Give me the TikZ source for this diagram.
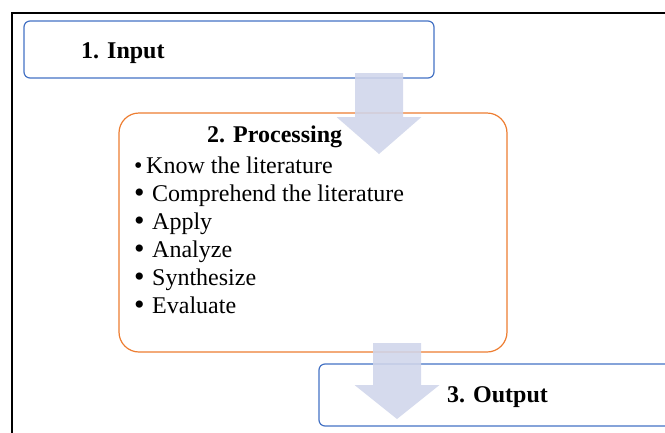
\documentclass[tikz,border=0pt]{standalone}
\usepackage{fontspec}
\setmainfont{Liberation Serif}
\definecolor{boxblue}{RGB}{68,114,196}
\definecolor{boxorange}{RGB}{237,125,49}
\definecolor{arrowfill}{RGB}{207,213,234}
\newcommand{\bigbul}{\smash{\raisebox{-1.5pt}{\scalebox{1.25}{•}}}}
\newcommand{\smallbul}{\smash{•}}
\begin{document}
\begin{tikzpicture}[x=1pt,y=-1pt,
  bluebox/.style={draw=boxblue,line width=1.2pt,rounded corners=6pt,inner sep=0pt},
  orangebox/.style={draw=boxorange,line width=1.2pt,rounded corners=20pt,inner sep=0pt},
  titletext/.style={anchor=base west,inner sep=0pt,font=\fontsize{24}{28}\selectfont\bfseries},
  itemtext/.style={anchor=base west,inner sep=0pt,font=\fontsize{24}{28}\selectfont},
  blockarrow/.style={fill=arrowfill,fill opacity=0.88,draw=none}
  ]
\useasboundingbox (0,0) rectangle (665,432);
\begin{scope}
\clip (0,0) rectangle (665,432);
% outer frame
\draw[line width=2.4pt] (12,440) -- (12,13) -- (680,13);
% boxes
\node[bluebox,minimum width=410pt,minimum height=57pt] (input) at (229,49.5) {};
\node[orangebox,minimum width=388pt,minimum height=239pt] (proc) at (313,232.5) {};
\node[bluebox,minimum width=380pt,minimum height=62pt] (output) at (509,395) {};
% texts
\node[titletext] (inputtxt) at (81,58) {1. Input};
\node[titletext] (proctxt) at (207,142) {2. Processing};
\node[titletext] (outputtxt) at (447,402) {3. Output};
\node[itemtext] (i1) at (134,173) {\makebox[12pt][l]{\smallbul}Know the literature};
\node[itemtext] (i2) at (134,201) {\makebox[18pt][l]{\bigbul}Comprehend the literature};
\node[itemtext] (i3) at (134,229) {\makebox[18pt][l]{\bigbul}Apply};
\node[itemtext] (i4) at (134,257) {\makebox[18pt][l]{\bigbul}Analyze};
\node[itemtext] (i5) at (134,285) {\makebox[18pt][l]{\bigbul}Synthesize};
\node[itemtext] (i6) at (134,313) {\makebox[18pt][l]{\bigbul}Evaluate};
% block arrows
\coordinate (a1) at (379,73);
\coordinate (a2) at (397,343);
\fill[blockarrow] ([xshift=-24pt]a1) -- ([xshift=24pt]a1) -- ([xshift=24pt,yshift=-44pt]a1)
  -- ([xshift=42.5pt,yshift=-44pt]a1) -- ([yshift=-81pt]a1) -- ([xshift=-42.5pt,yshift=-44pt]a1)
  -- ([xshift=-24pt,yshift=-44pt]a1) -- cycle;
\fill[blockarrow] ([xshift=-24pt]a2) -- ([xshift=24pt]a2) -- ([xshift=24pt,yshift=-42pt]a2)
  -- ([xshift=42.5pt,yshift=-42pt]a2) -- ([yshift=-76pt]a2) -- ([xshift=-42.5pt,yshift=-42pt]a2)
  -- ([xshift=-24pt,yshift=-42pt]a2) -- cycle;
\end{scope}
\end{tikzpicture}
\end{document}
